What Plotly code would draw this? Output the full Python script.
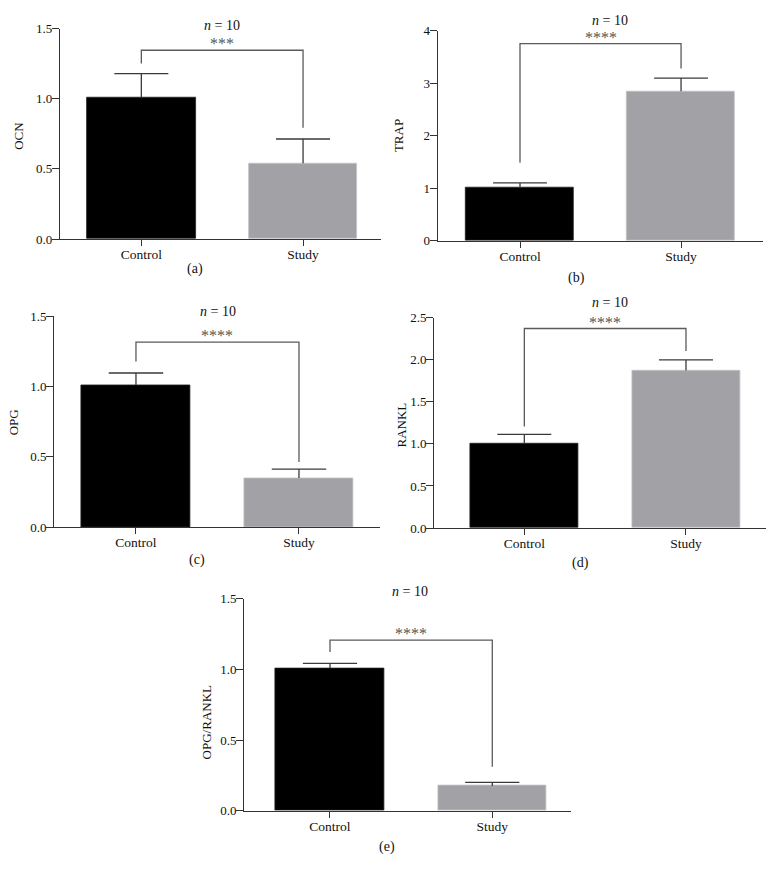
import plotly.graph_objects as go

# ---------------- data ----------------
categories = ["Control", "Study"]
measures = ["OCN", "TRAP", "OPG", "RANKL", "OPG/RANKL"]
panel_letters = ["(a)", "(b)", "(c)", "(d)", "(e)"]
control_mean = [1.01, 1.005, 1.01, 1.008, 1.007]
study_mean = [0.54, 2.845, 0.35, 1.873, 0.176]
control_err = [0.169, 0.094, 0.087, 0.105, 0.035]
study_err = [0.173, 0.251, 0.063, 0.125, 0.025]
y_max = [1.5, 4, 1.5, 2.5, 1.5]
y_dtick = [0.5, 1, 0.5, 0.5, 0.5]
y_format = [".1f", "d", ".1f", ".1f", ".1f"]
significance = ["***", "****", "****", "****", "****"]
bracket_top = [1.346, 3.75, 1.316, 2.371, 1.206]
bracket_left_end = [1.252, 1.486, 1.178, 1.207, 1.123]
bracket_right_end = [0.794, 3.28, 0.464, 2.103, 0.3125]
n_per_group = 10

# ---------------- layout geometry (pixels in a 775x887 page) ----------------
W, H = 775, 887
ax_x_px = [(60, 381), (437.7, 762.7), (54.3, 380), (434.3, 766), (244.3, 571)]
ax_y_px = [(22, 236), (24, 237.7), (314.7, 529), (316, 530), (601.7, 817.7)]
x_ranges = [(-0.503, 1.482), (-0.511, 1.507), (-0.501, 1.497), (-0.557, 1.495), (-0.528, 1.485)]
ytitle_px = [(19, 131), (398.3, 131), (13.5, 422), (401.7, 425), (206.7, 728)]
ntext_px = [(221.5, 19), (610, 13.5), (218, 309.5), (609.5, 300.7), (409.5, 595)]
letter_px = [(195, 267), (576.7, 275.7), (197, 563), (580, 566), (386.7, 854)]
CAP_HALF = 0.167  # half-width of error-bar caps, in category units

FONT = "Liberation Serif"
AXIS_COLOR = "#333333"
CONTROL_COLOR = "#000000"
STUDY_COLOR = "#a2a2a6"
BRACKET_COLOR = "#5a5a5a"
ERR_COLOR = "#3a3a3a"
TEXT_COLOR = "#111111"

x_pos = list(range(len(categories)))  # category index positions on the x axes

fig = go.Figure()
annotations = []
layout_axes = {}

for i in range(5):
    k = "" if i == 0 else str(i + 1)
    xa, ya = "x" + k, "y" + k
    means = [control_mean[i], study_mean[i]]
    errs = [control_err[i], study_err[i]]
    # bars with one-sided (upper) error bar stems
    fig.add_trace(go.Bar(
        x=x_pos, y=means, width=0.67, xaxis=xa, yaxis=ya,
        marker=dict(color=[CONTROL_COLOR, STUDY_COLOR],
                    line=dict(color=["#222222", "#c4c4c4"], width=0.8)),
        error_y=dict(type="data", symmetric=False, array=errs, arrayminus=[0, 0],
                     color=ERR_COLOR, thickness=1.3, width=0),
        showlegend=False, hoverinfo="skip",
    ))
    # error-bar caps (top only)
    fig.add_trace(go.Scatter(
        x=x_pos, y=[m + e for m, e in zip(means, errs)], mode="markers",
        marker=dict(size=1, color="rgba(0,0,0,0)"),
        error_x=dict(type="data", symmetric=True, array=[CAP_HALF] * len(x_pos),
                     color=ERR_COLOR, thickness=1.3, width=0),
        xaxis=xa, yaxis=ya, showlegend=False, hoverinfo="skip", cliponaxis=False,
    ))
    # significance bracket
    fig.add_trace(go.Scatter(
        x=[x_pos[0], x_pos[0], x_pos[1], x_pos[1]],
        y=[bracket_left_end[i], bracket_top[i], bracket_top[i], bracket_right_end[i]],
        mode="lines", line=dict(color=BRACKET_COLOR, width=1.3),
        xaxis=xa, yaxis=ya, showlegend=False, hoverinfo="skip", cliponaxis=False,
    ))
    annotations.append(dict(
        x=(x_pos[0] + x_pos[1]) / 2, y=bracket_top[i], xref=xa, yref=ya, text=significance[i],
        showarrow=False, xanchor="center", yanchor="middle", yshift=6.5,
        font=dict(family=FONT, size=16, color="#555555"),
    ))

    x0, x1 = ax_x_px[i]
    yt, yb = ax_y_px[i]
    layout_axes["xaxis" + k] = dict(
        domain=[x0 / W, x1 / W], anchor=ya, type="linear",
        tickmode="array", tickvals=x_pos, ticktext=categories,
        range=list(x_ranges[i]), showline=True, linecolor=AXIS_COLOR, linewidth=1.2,
        ticks="outside", ticklen=6, tickwidth=1.2, tickcolor=AXIS_COLOR,
        ticklabelstandoff=-3,
        showgrid=False, zeroline=False, fixedrange=True,
        tickfont=dict(family=FONT, size=13.5, color=TEXT_COLOR),
    )
    layout_axes["yaxis" + k] = dict(
        domain=[1 - yb / H, 1 - yt / H], anchor=xa,
        range=[0, y_max[i]], dtick=y_dtick[i], tick0=0, tickformat=y_format[i],
        showline=True, linecolor=AXIS_COLOR, linewidth=1.2,
        ticks="outside", ticklen=7, tickwidth=1.2, tickcolor=AXIS_COLOR,
        ticklabelstandoff=-3,
        showgrid=False, zeroline=False, fixedrange=True,
        tickfont=dict(family=FONT, size=13, color=TEXT_COLOR),
    )
    # y-axis title
    tx, ty = ytitle_px[i]
    annotations.append(dict(
        x=tx / W, y=1 - ty / H, xref="paper", yref="paper", text=measures[i],
        textangle=-90, showarrow=False, xanchor="center", yanchor="middle",
        font=dict(family=FONT, size=13, color=TEXT_COLOR),
    ))
    # n = 10
    nx, ny = ntext_px[i]
    annotations.append(dict(
        x=nx / W, y=1 - ny / H, xref="paper", yref="paper",
        text=f"<i>n</i> = {n_per_group}", showarrow=False,
        xanchor="center", yanchor="middle",
        font=dict(family=FONT, size=14, color=TEXT_COLOR),
    ))
    # panel letter
    lx, ly = letter_px[i]
    annotations.append(dict(
        x=lx / W, y=1 - ly / H, xref="paper", yref="paper",
        text=panel_letters[i], showarrow=False,
        xanchor="center", yanchor="middle",
        font=dict(family=FONT, size=14, color=TEXT_COLOR),
    ))

fig.update_layout(
    width=W, height=H, margin=dict(l=0, r=0, t=0, b=0),
    paper_bgcolor="white", plot_bgcolor="white",
    barmode="overlay", bargap=0, annotations=annotations,
    **layout_axes,
)

fig.write_html(
    "out.html",
    config={"displayModeBar": False},
    post_script="document.body.style.margin='0';document.body.style.padding='0';",
)
